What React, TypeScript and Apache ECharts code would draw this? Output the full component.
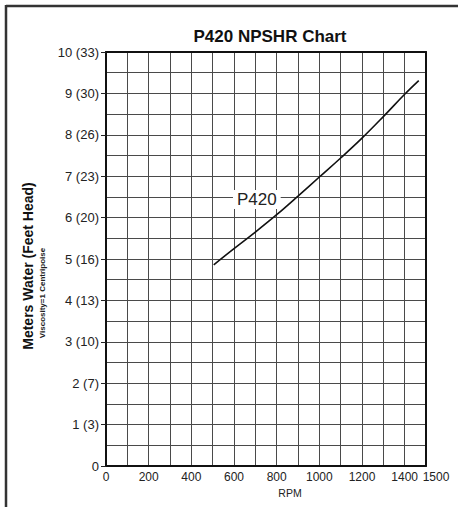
import React, { useEffect, useRef } from "react";
import * as echarts from "echarts";

const rpm = [505, 600, 700, 800, 900, 1000, 1100, 1200, 1300, 1400, 1466];
const npshr = [4.86, 5.25, 5.65, 6.07, 6.52, 6.98, 7.44, 7.92, 8.44, 8.98, 9.31];
const yTickLabels = ["0", "1 (3)", "2 (7)", "3 (10)", "4 (13)", "5 (16)", "6 (20)", "7 (23)", "8 (26)", "9 (30)", "10 (33)"];
const xShownLabels = [0, 200, 400, 600, 800, 1000, 1200, 1400, 1500];
const seriesName = "P420";
const labelPoint = [707, 6.44];

const FONT = "'Liberation Sans', Arial, sans-serif";

export default function App() {
  const ref = useRef<HTMLDivElement>(null);
  useEffect(() => {
    if (!ref.current) return;
    const chart = echarts.init(ref.current, null, { renderer: "svg" });
    const gridColor = "#4a4a4a";
    chart.setOption({
      animation: false,
      backgroundColor: "#ffffff",
      textStyle: { fontFamily: FONT },
      grid: { left: 106, top: 52, width: 320, height: 414, containLabel: false },
      xAxis: [
        {
          type: "value",
          min: 0,
          max: 1500,
          interval: 100,
          axisLine: { show: true, lineStyle: { color: "#111", width: 2 } },
          axisTick: { show: false },
          splitLine: { show: true, lineStyle: { color: gridColor, width: 1 } },
          axisLabel: {
            margin: 5,
            color: "#222",
            fontSize: 12,
            fontFamily: FONT,
            formatter: (v: number) => {
              if (!xShownLabels.includes(v)) return "";
              if (v === 1500) return "{r|" + v + "}";
              return String(v);
            },
            rich: { r: { padding: [0, 0, 0, 20], fontSize: 12, color: "#222", fontFamily: FONT } },
          },
        },
        {
          type: "value",
          position: "top",
          min: 0,
          max: 1500,
          axisLine: { show: true, onZero: false, lineStyle: { color: "#111", width: 2 } },
          axisTick: { show: false },
          axisLabel: { show: false },
          splitLine: { show: false },
        },
      ],
      yAxis: [
        {
          type: "value",
          min: 0,
          max: 10,
          interval: 1,
          axisLine: { show: true, lineStyle: { color: "#111", width: 2 } },
          axisTick: { show: true, length: 5, lineStyle: { color: "#222", width: 1 } },
          minorTick: { show: false, splitNumber: 2 },
          splitLine: { show: true, lineStyle: { color: gridColor, width: 1 } },
          minorSplitLine: { show: true, lineStyle: { color: gridColor, width: 1 } },
          axisLabel: {
            margin: 7,
            color: "#222",
            fontSize: 13,
            fontFamily: FONT,
            formatter: (v: number) => yTickLabels[Math.round(v)] ?? "",
          },
        },
        {
          type: "value",
          position: "right",
          min: 0,
          max: 10,
          axisLine: { show: true, onZero: false, lineStyle: { color: "#111", width: 2 } },
          axisTick: { show: false },
          axisLabel: { show: false },
          splitLine: { show: false },
        },
      ],
      series: [
        {
          name: seriesName,
          type: "line",
          xAxisIndex: 0,
          yAxisIndex: 0,
          smooth: 0.4,
          showSymbol: false,
          symbol: "none",
          lineStyle: { color: "#111", width: 1.6 },
          data: rpm.map((r, i) => [r, npshr[i]]),
          z: 5,
          markPoint: {
            symbol: "rect",
            symbolSize: 0,
            silent: true,
            data: [{ coord: labelPoint, value: seriesName }],
            label: {
              show: true,
              position: "inside",
              formatter: seriesName,
              color: "#222",
              fontSize: 17,
              fontFamily: FONT,
              backgroundColor: "#ffffff",
              padding: [1, 4, 1, 4],
            },
          },
        },
      ],
      graphic: [
        {
          type: "line",
          shape: { x1: 6, y1: 6, x2: 458, y2: 6 },
          style: { stroke: "#333", lineWidth: 2.5 },
        },
        {
          type: "line",
          shape: { x1: 6, y1: 5, x2: 6, y2: 507 },
          style: { stroke: "#333", lineWidth: 2.5 },
        },
        {
          type: "text",
          x: 270,
          y: 36,
          style: {
            text: "P420 NPSHR Chart",
            font: "bold 17px " + FONT,
            fill: "#111",
            textAlign: "center",
            textVerticalAlign: "middle",
          },
        },
        {
          type: "text",
          x: 290,
          y: 493,
          style: {
            text: "RPM",
            font: "10.5px " + FONT,
            fill: "#222",
            textAlign: "center",
            textVerticalAlign: "middle",
          },
        },
        {
          type: "text",
          x: 28,
          y: 266,
          rotation: Math.PI / 2,
          style: {
            text: "Meters Water (Feet Head)",
            font: "bold 14px " + FONT,
            fill: "#111",
            textAlign: "center",
            textVerticalAlign: "middle",
          },
        },
        {
          type: "text",
          x: 42,
          y: 293,
          rotation: Math.PI / 2,
          style: {
            text: "Viscosity=1 Centripoise",
            font: "bold 8px " + FONT,
            fill: "#222",
            textAlign: "center",
            textVerticalAlign: "middle",
          },
        },
      ],
    });
    return () => chart.dispose();
  }, []);
  return (
    <div
      ref={ref}
      style={{ position: "absolute", left: 0, top: 0, width: 458, height: 507 }}
    />
  );
}
